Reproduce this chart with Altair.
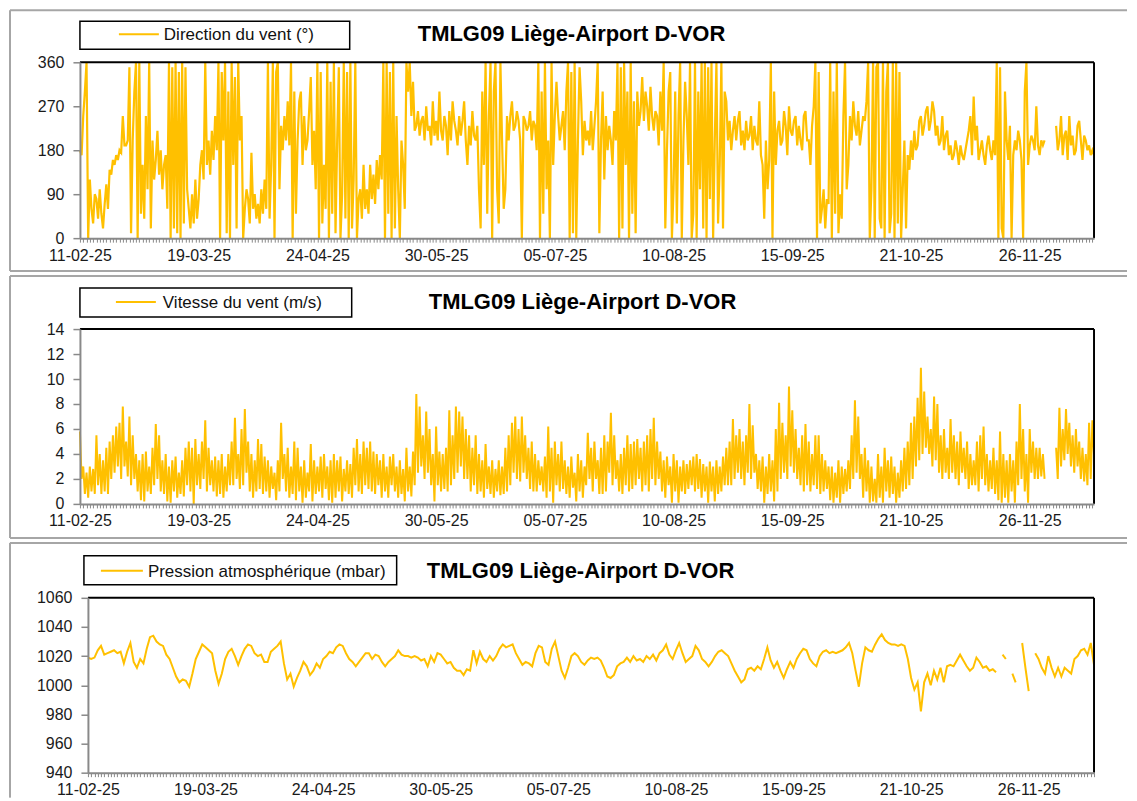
import altair as alt
import pandas as pd

TITLE = "TMLG09 Liège-Airport D-VOR"
LEGEND_LABELS = ["Direction du vent (°)", "Vitesse du vent (m/s)", "Pression atmosphérique (mbar)"]
START = "2025-02-11"
GOLD = "#FFC000"
FONT = "Liberation Sans"
FRAME = "#a6a6a6"
AXIS_GRAY = "#898989"

# wind direction, two readings per day (00h, 12h), from 11-02-25
dir_vals = [
    180,170, 250,300, 360,0, 120,60, 30,90, 80,40, 100,50, 20,70, 110,60, 140,130,
    160,150, 170,160, 180,175, 250,190, 190,200, 350,10, 200,300, 360,0, 360,50, 150,40,
    250,100, 360,20, 200,120, 160,220, 130,180, 100,150, 170,60, 360,0, 350,20, 360,10,
    340,0, 360,30, 350,100, 60,20, 90,30, 120,40, 80,150, 180,120, 360,150, 200,130,
    220,160, 250,180, 360,0, 340,200, 360,10, 300,0, 360,150, 330,20, 360,200, 250,0,
    60,100, 80,30, 175,60, 90,40, 70,30, 100,50, 120,60, 360,40, 150,360, 0,340,
    360,100, 230,180, 250,200, 280,190, 360,0, 300,50, 200,280, 300,150, 250,180, 200,260,
    330,150, 220,100, 360,0, 340,30, 150,60, 360,0, 320,50, 360,10, 200,350, 0,90,
    360,40, 340,0, 360,20, 120,360, 0,80, 100,40, 150,60, 100,50, 150,80, 130,70,
    160,100, 170,120, 360,0, 360,50, 340,0, 360,20, 250,100, 0,200, 150,60, 360,300,
    360,250, 320,220, 230,260, 210,240, 250,200, 270,220, 230,190, 280,210, 240,200, 300,220,
    200,250, 230,170, 260,200, 280,240, 220,190, 250,210, 240,280, 200,150, 230,190, 260,210,
    200,230, 100,20, 300,150, 360,50, 250,360, 0,300, 360,100, 30,360, 200,60, 100,250,
    200,250, 280,220, 230,260, 240,200, 0,250, 240,220, 230,260, 200,240, 230,180, 360,0,
    300,50, 360,100, 200,0, 360,150, 250,320, 250,200, 230,260, 180,300, 360,0, 340,10,
    360,0, 200,350, 280,170, 240,200, 220,190, 260,180, 230,280, 360,10, 200,300, 120,250,
    180,230, 200,150, 260,200, 360,0, 350,20, 360,150, 300,0, 360,50, 280,10, 300,230,
    260,330, 240,300, 270,220, 310,250, 220,260, 250,190, 300,220, 360,20, 180,300, 340,0,
    100,300, 30,250, 360,0, 200,320, 250,150, 360,0, 50,360, 0,300, 100,360, 20,360,
    0,350, 80,360, 0,200, 360,30, 150,360, 20,300, 280,200, 240,180, 220,250, 200,240,
    260,190, 220,180, 240,200, 210,250, 180,230, 200,190, 280,170, 150,40, 200,100, 160,360,
    0,300, 150,220, 240,190, 200,260, 230,170, 270,220, 210,240, 250,190, 230,200, 180,250,
    260,200, 200,150, 230,270, 360,0, 340,30, 60,100, 20,80, 70,360, 0,300, 50,360,
    10,90, 40,250, 360,100, 150,250, 200,280, 230,210, 260,190, 220,250, 240,280, 360,0,
    100,360, 0,350, 360,40, 20,360, 0,300, 360,10, 50,360, 0,360, 30,340, 0,100,
    200,20, 170,140, 200,160, 220,180, 190,240, 250,210, 230,260, 270,220, 240,280, 260,210,
    230,190, 200,250, 180,210, 220,170, 190,160, 170,200, 180,150, 190,170, 160,180, 200,220,
    250,170, 290,200, 230,160, 180,200, 170,150, 190,210, 180,160, 200,170, 360,0, 350,20,
    0,300, 200,160, 230,0, 170,200, 180,220, 200,160, 0,300, 360,150, 190,210, 200,180,
    270,190, 170,200, 190,200, None,None, None,None, None,None, 230,180, 200,250, 170,210, 220,160,
    250,190, 210,170, 180,230, 240,200, 160,210, 200,180, 190,170, 180,170,
]

# wind speed (m/s), two readings per day
spd_vals = [
    5.8,2, 3,0.8, 2.5,0.5, 3,1, 2.8,0.8, 5.5,1.5, 4,0.8, 3.5,1, 4.5,0.8, 5,2,
    5.5,2.5, 6.2,3, 6.5,2, 7.8,3, 5,2.2, 7,1.5, 5.5,2, 4,1, 3.5,0.3, 4,0.2,
    4.2,1, 3,0.8, 4.5,1.5, 6.4,2, 5.5,1, 3.5,0.8, 4,0.2, 3,0.1, 3.5,1, 3.8,0.5,
    2.5,0.8, 3.5,0.6, 4.5,1.5, 5,1, 4.5,0, 5.2,1.5, 4,1.2, 5,2, 6.7,1, 4.5,1.5,
    3.5,1, 3.8,0.6, 3.5,0.8, 4,0.5, 3,1, 4,1.5, 5,1.5, 6.9,2, 4,1.2, 6,1.5,
    7.6,2.5, 5,1, 4,0.5, 3.5,1, 5.2,1.2, 4.8,0.8, 3.8,1, 3.5,0.5, 3,1.2, 2.5,0.3,
    3.5,1, 6.5,2, 4,1, 4.5,0.5, 3,0.8, 5,0.3, 4.5,1, 3,0.1, 3.5,0.5, 2.5,1,
    4.8,0.2, 3.5,0.8, 3,1, 3.8,0.5, 4,1.2, 3,0.3, 3.5,0.1, 4,0.5, 3.5,1, 3.8,0.2,
    2.8,1, 3.5,0.8, 3.2,0.5, 4.5,1.5, 5.2,1, 4,0.8, 5,1.5, 4.5,1.2, 5,1, 4.2,0.8,
    4,1.5, 3.5,0.5, 4,1, 3,0.5, 3.8,1.5, 4,1, 3,0.5, 3.5,0.8, 2.8,0.2, 4.5,1,
    3,0.6, 4.2,1.5, 8.8,2.5, 7.8,3, 5.5,2, 7.4,2.5, 6,1.5, 4,0.2, 6.2,1.5, 4.2,1,
    4,1.2, 4.5,1, 7.5,1.5, 5.5,2, 7.8,2.5, 7.4,3, 7,2, 6,2, 5.5,1, 4.5,1.5,
    5.5,0.8, 4,1, 3.5,0.5, 4.8,1.2, 3,0.8, 3.5,0.5, 2.8,1, 3.5,0.7, 3,0.8, 4.5,1,
    5.5,1.5, 6.5,2.5, 7,2, 6,1.8, 7,2.5, 5.5,2, 4.5,1.2, 5,1, 4,1, 3.5,1.5,
    3,1, 3.8,0.5, 6.2,1, 4.5,0.1, 5,1.5, 4,1, 5,1.2, 3.5,0.8, 3,0.5, 3.8,1.3,
    2.5,0.2, 4,1, 3.5,0.5, 3,1.5, 5.7,2, 4.5,1, 5,2, 3.5,0.8, 4.5,0.8, 5.5,1,
    5,2.5, 7.3,1.5, 5.5,2, 3.5,1, 4,0.8, 4.5,1.5, 5.5,1, 4.8,1.2, 5,1.5, 5.2,2,
    4.5,1, 5,1.5, 5.5,1, 6,2, 6.9,1.5, 5,2, 4.2,1, 3.5,0.5, 3.8,1.5, 3,0.1,
    4,1, 3.5,0.1, 3,1, 3.5,0.8, 3.2,1.2, 3.5,1.5, 3.8,1, 4,1.2, 3.6,0.5, 3.2,1,
    3,0.1, 3.4,1, 3,0.2, 3.5,0.8, 3,1, 3.8,1.5, 4.5,1.5, 5,1.5, 6.8,2, 5.5,2.5,
    6,2, 5,1.5, 5.5,2.5, 8,2, 6.3,2.5, 4,1.2, 3.5,1, 3.8,0.1, 3,0.8, 4,1,
    3.5,0.2, 6,1, 8.1,2, 6.5,2.5, 5.5,2, 9.4,3, 7.5,2.5, 6,2, 4.5,1.5, 5.5,1,
    6.4,1.5, 5,1, 4,1.5, 5.5,1.2, 5.5,0.8, 4,1, 3.5,1.2, 3,0.3, 3,0.1, 2.5,0.5,
    3.5,0.1, 3,0.8, 2.8,1, 3.5,1.2, 5.5,2, 8.3,2.5, 7,2, 4,0.5, 4.5,1, 3.5,0.1,
    3,0.2, 2,0.1, 4,0.5, 3,0.1, 4.5,1, 3.5,0.5, 3.8,0.8, 3,0.1, 2.5,0.5, 3.5,1,
    4.5,1.2, 5,1.5, 6.5,2, 7,3, 8.5,3.5, 10.9,4, 9,4.5, 7,4, 6,3, 8.6,3.5,
    8,2.5, 5.5,2, 6,2.5, 4.5,2, 6.8,2.5, 5.5,2, 5,1.5, 5.8,2.5, 4.5,2, 5,1.2,
    4,1.5, 3.5,1.5, 5,1, 5.5,2, 6.2,1.5, 4,1, 3.5,1.2, 4.5,0.8, 3.5,0.3, 5.8,0.1,
    4,0.5, 3.5,0.1, 4,1, 3.5,0.1, 5,1.5, 8,2, 6,1, 4,0.1, 6,2.5, 5,2,
    4.5,2, 4.5,2.2, 4,2, None,None, None,None, None,None, 4.5,2, 7.7,3, 6,3.5, 7.6,4,
    6.5,3, 5.5,2.5, 6,3, 5,2, 4.5,1.8, 4,1.5, 6.5,2, 6.7,4,
]

# atmospheric pressure (mbar), one reading per day
pres_vals = [
    1019,1018,1019,1024,1027,1021,1022,1023,1024,1022,
    1023,1015,1023,1029,1016,1012,1018,1015,1025,1033,
    1034,1030,1028,1027,1021,1018,1012,1006,1002,1004,
    1003,999,1008,1018,1023,1028,1026,1024,1022,1010,
    1001,1008,1018,1023,1025,1020,1014,1020,1025,1028,
    1027,1022,1020,1021,1016,1016,1023,1025,1027,1030,
    1015,1004,1008,999,1005,1010,1016,1013,1007,1010,
    1015,1012,1018,1020,1023,1022,1026,1028,1027,1022,
    1018,1016,1013,1016,1019,1022,1022,1018,1021,1020,
    1016,1013,1016,1018,1020,1024,1021,1020,1020,1019,
    1020,1019,1017,1018,1013,1020,1016,1022,1021,1018,
    1015,1016,1012,1010,1010,1007,1011,1010,1024,1015,
    1023,1018,1016,1020,1017,1020,1025,1028,1026,1027,
    1028,1022,1018,1014,1016,1015,1013,1022,1027,1026,
    1016,1014,1025,1030,1020,1010,1005,1012,1020,1022,
    1020,1016,1014,1017,1019,1018,1019,1017,1012,1006,
    1005,1007,1013,1015,1016,1019,1016,1020,1017,1018,
    1016,1020,1018,1021,1017,1022,1024,1028,1021,1018,
    1024,1029,1022,1016,1018,1020,1027,1024,1018,1016,
    1013,1016,1020,1023,1024,1022,1020,1015,1010,1006,
    1002,1004,1011,1012,1010,1013,1011,1018,1026,1017,
    1012,1016,1010,1005,1011,1016,1012,1018,1022,1025,
    1024,1018,1015,1013,1020,1023,1024,1022,1023,1022,
    1023,1024,1026,1029,1022,1010,999,1015,1026,1024,
    1023,1028,1032,1035,1031,1029,1028,1028,1027,1028,
    1027,1018,1005,997,1002,982,1002,1008,1000,1010,
    1004,1012,1002,1013,1014,1013,1017,1021,1017,1013,
    1010,1012,1019,1016,1012,1013,1010,1011,1009,None,
    1021,1018,None,1008,1002,None,1029,1012,996,None,
    1022,1018,1012,1008,1020,1012,1006,1012,1006,1012,
    1010,1008,1018,1020,1024,1025,1021,1029,1014,
]

dir_ticks = [0, 90, 180, 270, 360]
spd_ticks = [0, 2, 4, 6, 8, 10, 12, 14]
pres_ticks = [940, 960, 980, 1000, 1020, 1040, 1060]


def to_frame(vals, step_h):
    t0 = pd.Timestamp(START)
    rows, seg, gap = [], 0, False
    for i, v in enumerate(vals):
        if v is None:
            if not gap:
                seg += 1
            gap = True
            continue
        gap = False
        rows.append({"t": t0 + pd.Timedelta(hours=step_h * i), "v": v, "seg": seg})
    return pd.DataFrame(rows)


def dt(ts):
    return alt.DateTime(year=ts.year, month=ts.month, date=ts.day, hours=ts.hour)


LABEL_EXPR = ("(round((datum.value - datetime(2025,1,11)) / 86400000) % 36 == 0)"
              " ? timeFormat(datum.value, '%d-%m-%y') : ''")

W = 1015


def panel(df, label, ydom, yvals, h, n_days, xoff, frame, legend, title_pos, lw, bottom=True):
    t0 = pd.Timestamp(START)
    xend = t0 + pd.Timedelta(hours=24 * n_days)
    tick_vals = [dt(d) for d in pd.date_range(START, xend, freq="D") if d <= xend]
    x = alt.X("t:T", scale=alt.Scale(domain=[dt(t0), dt(xend)], range=[xoff, W]),
              axis=alt.Axis(values=tick_vals, labelExpr=LABEL_EXPR, title=None,
                            labelOverlap=False, labelFlush=False, labelBound=False,
                            tickSize=4, tickWidth=1, labelPadding=5, zindex=1))
    y = alt.Y("v:Q", scale=alt.Scale(domain=ydom, nice=False, zero=False),
              axis=alt.Axis(values=yvals, title=None, tickSize=7, tickWidth=1.5,
                            labelPadding=9, format="d", offset=-xoff, zindex=1))
    line = alt.Chart(df).mark_line(color=GOLD, strokeWidth=lw).encode(
        x=x, y=y, detail="seg:N")
    one = pd.DataFrame({"k": [0]})
    fl, ft, fr, fb = frame
    layers = [
        alt.Chart(one).mark_rule(color=FRAME, strokeWidth=2).encode(
            x=alt.value(fl), x2=alt.value(fr), y=alt.value(ft)),
        alt.Chart(one).mark_rule(color=FRAME, strokeWidth=2).encode(
            x=alt.value(fl), y=alt.value(ft), y2=alt.value(fb)),
    ]
    if bottom:
        layers.append(alt.Chart(one).mark_rule(color=FRAME, strokeWidth=2).encode(
            x=alt.value(fl), x2=alt.value(fr), y=alt.value(fb)))
    bx1, bx2, by1, by2, sx1, sx2, sy, tx = legend
    tcx, tcy = title_pos
    layers += [
        line,
        # plot-area border (top and right, black)
        alt.Chart(one).mark_rule(color="black", strokeWidth=2).encode(
            x=alt.value(xoff), x2=alt.value(W), y=alt.value(0)),
        alt.Chart(one).mark_rule(color="black", strokeWidth=2).encode(
            x=alt.value(W), y=alt.value(0), y2=alt.value(h)),
        # legend box
        alt.Chart(one).mark_rect(fill="white", stroke="black", strokeWidth=1.5).encode(
            x=alt.value(bx1), x2=alt.value(bx2), y=alt.value(by1), y2=alt.value(by2)),
        alt.Chart(one).mark_rule(color=GOLD, strokeWidth=2).encode(
            x=alt.value(sx1), x2=alt.value(sx2), y=alt.value(sy)),
        alt.Chart(pd.DataFrame({"label": [label]})).mark_text(
            align="left", baseline="middle", font=FONT, fontSize=17, color="#111").encode(
            x=alt.value(tx), y=alt.value(sy + 1), text="label:N"),
        alt.Chart(pd.DataFrame({"title": [TITLE]})).mark_text(
            align="center", baseline="middle", font=FONT, fontSize=22, fontWeight="bold",
            color="black").encode(
            x=alt.value(tcx), y=alt.value(tcy), text="title:N"),
    ]
    return alt.layer(*layers).properties(width=W, height=h)


p1 = panel(to_frame(dir_vals, 12), LEGEND_LABELS[0], [0, 360], dir_ticks, 176, 307.5, 0,
           (-70, -52, 1048, 209), (0, 270, -41, -13, 39, 79, -28, 84), (492, -28), 2.2)
p2 = panel(to_frame(spd_vals, 12), LEGEND_LABELS[1], [0, 14], spd_ticks, 175, 307.5, 0,
           (-70, -53, 1048, 209), (0, 272, -41, -12, 36, 76, -27, 83), (503, -27), 2.0)
p3 = panel(to_frame(pres_vals, 24), LEGEND_LABELS[2], [940, 1060], pres_ticks, 175, 308, 8,
           (-70, -55, 1048, 200), (4, 317, -42, -13, 21, 63, -27, 68), (501, -27), 2.0,
           bottom=False)

chart = alt.vconcat(p1, p2, p3, spacing=1).properties(
    padding=0
).configure_view(
    stroke="transparent"
).configure_axis(
    domainColor=AXIS_GRAY, domainWidth=2, tickColor=AXIS_GRAY, grid=False,
    labelFont=FONT, labelFontSize=16, labelColor="#1a1a1a"
)

chart.save("out.html", embed_options={"renderer": "svg", "actions": False})
